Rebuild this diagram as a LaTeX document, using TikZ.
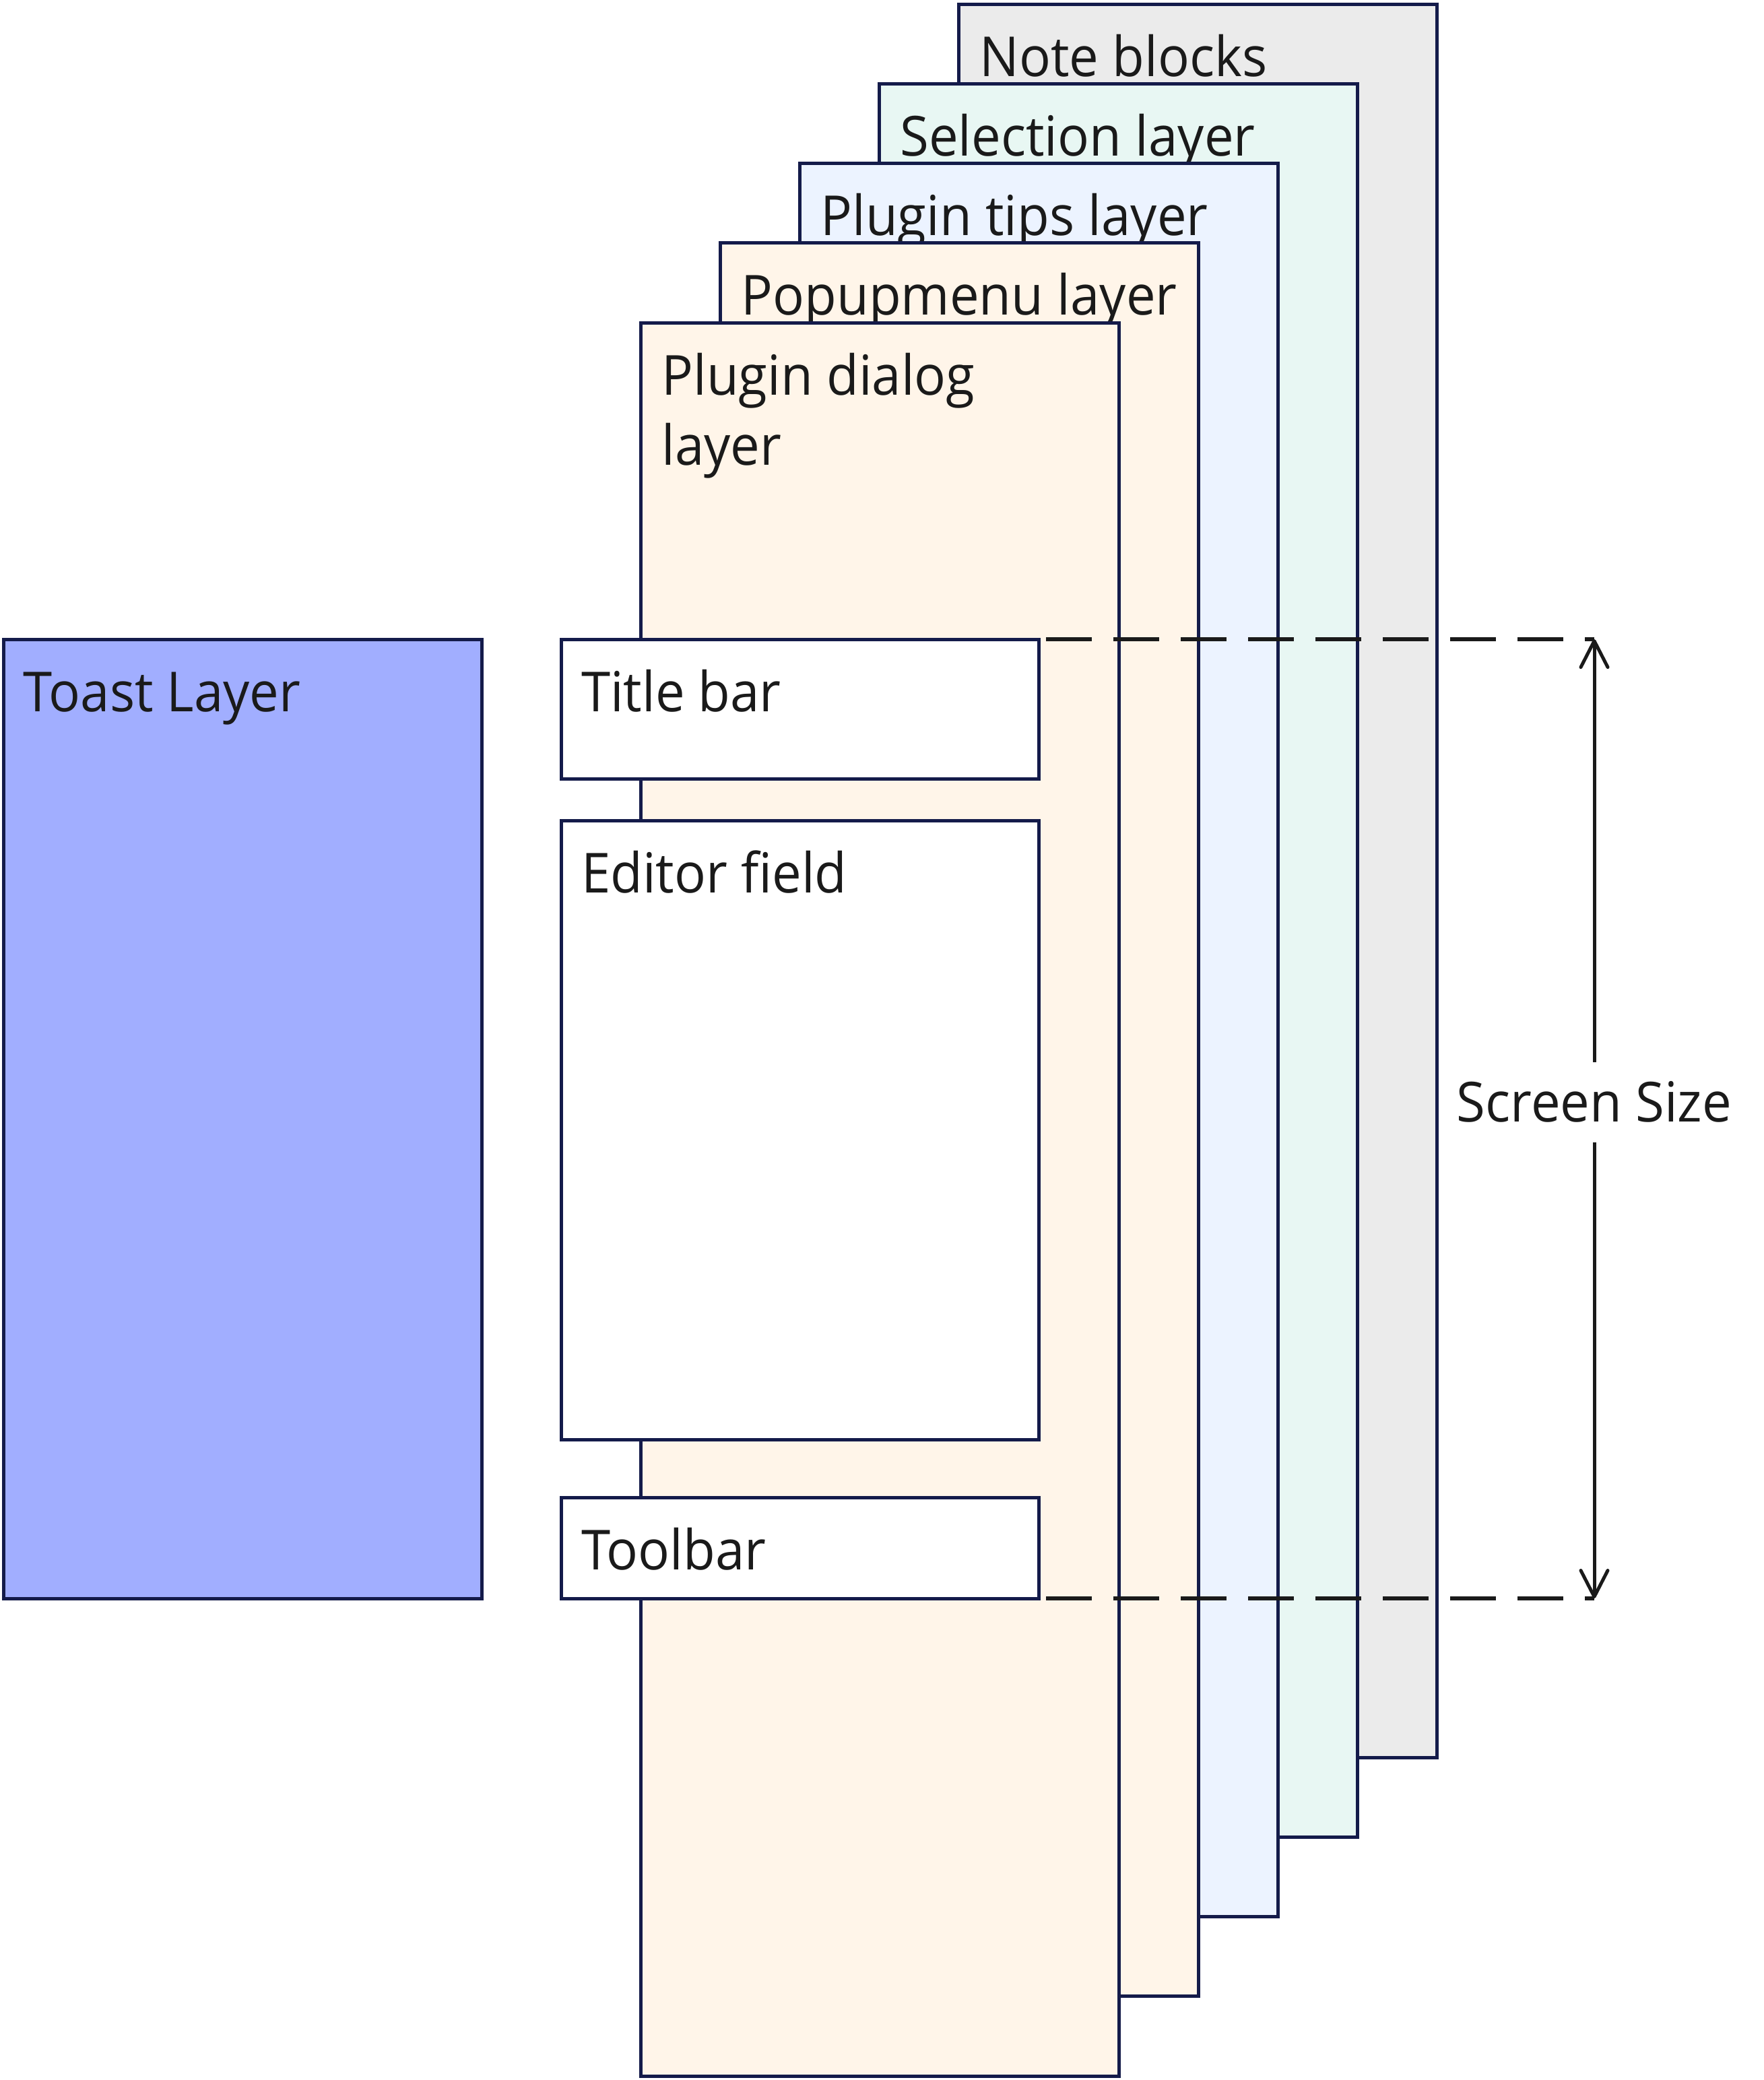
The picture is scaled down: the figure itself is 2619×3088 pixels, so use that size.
\documentclass[tikz,border=0pt]{standalone}
\usepackage{fontspec}
\setmainfont{Open Sans}[FakeStretch=0.95]
\usetikzlibrary{arrows.meta,calc}
\definecolor{bordc}{HTML}{141B4A}
\definecolor{txtc}{HTML}{1A1A1A}
\definecolor{notec}{HTML}{EBEBEB}
\definecolor{selc}{HTML}{E8F7F3}
\definecolor{tipc}{HTML}{ECF3FF}
\definecolor{popc}{HTML}{FFF5E9}
\definecolor{toastc}{HTML}{A1AEFF}
\begin{document}
\begin{tikzpicture}[x=0.25pt,y=-0.25pt,
  box/.style={draw=bordc, line width=1.25pt, inner sep=0pt, outer sep=0pt, anchor=north west, minimum width=177.375pt},
  layerbox/.style={box, minimum height=650.75pt},
  lbl/.style={anchor=base west, inner sep=0pt, outer sep=0pt, text=txtc, font=\fontsize{20.5pt}{26pt}\selectfont},
  dashline/.style={draw=txtc, line width=1.4pt, dash pattern=on 17pt off 8pt},
  measure/.style={draw=txtc, line width=1.25pt, -{Straight Barb[length=9.75pt,width=10pt,line cap=round,line join=round]}}]
\useasboundingbox (0,0) rectangle (2619,3088);
% stacked layers, back to front
\node[layerbox, fill=notec] (note) at (1423.5,6) {};
\node[lbl] (noteL) at ($(note.north west)+(31,107)$) {Note blocks};
\node[layerbox, fill=selc] (sel) at (1305.5,124.25) {};
\node[lbl] (selL) at ($(sel.north west)+(31,107)$) {Selection layer};
\node[layerbox, fill=tipc] (tips) at (1187.5,242.5) {};
\node[lbl] (tipsL) at ($(tips.north west)+(31,107)$) {Plugin tips layer};
\node[layerbox, fill=popc] (popup) at (1069.5,360.75) {};
\node[lbl] (popupL) at ($(popup.north west)+(31,107)$) {Popupmenu layer};
\node[layerbox, fill=popc] (dialog) at (951.5,479) {};
\node[lbl] (dialogL) at ($(dialog.north west)+(31,107)$) {Plugin dialog};
\node[lbl] (dialogL2) at ($(dialogL.base west)+(0,104)$) {layer};
% toast layer
\node[box, fill=toastc, minimum width=177.5pt, minimum height=356pt] (toast) at (5,949) {};
\node[lbl] (toastL) at ($(toast.north west)+(30,107)$) {Toast Layer};
% dialog parts
\node[box, fill=white, minimum width=177.25pt, minimum height=51.75pt] (title) at (833,949) {};
\node[lbl] (titleL) at ($(title.north west)+(30,107)$) {Title bar};
\node[box, fill=white, minimum width=177.25pt, minimum height=229.75pt] (editor) at (833,1218) {};
\node[lbl] (editorL) at ($(editor.north west)+(30,107)$) {Editor field};
\node[box, fill=white, minimum width=177.25pt, minimum height=37.5pt] (toolbar) at (833,2223) {};
\node[lbl] (toolbarL) at ($(toolbar.north west)+(30,107)$) {Toolbar};
% screen size measure
\coordinate (ssTop) at (2367,949);
\coordinate (ssBot) at (2367,2373);
\draw[dashline] ($(title.north east)+(11,0)$) -- (ssTop);
\draw[dashline] ($(toolbar.south east)+(11,0)$) -- (ssBot);
\node[lbl, anchor=center, minimum height=29.75pt] (ss) at (2367,1636) {Screen Size};
\draw[measure] (ss.north) -- (ssTop);
\draw[measure] (ss.south) -- (ssBot);
\end{tikzpicture}
\end{document}
